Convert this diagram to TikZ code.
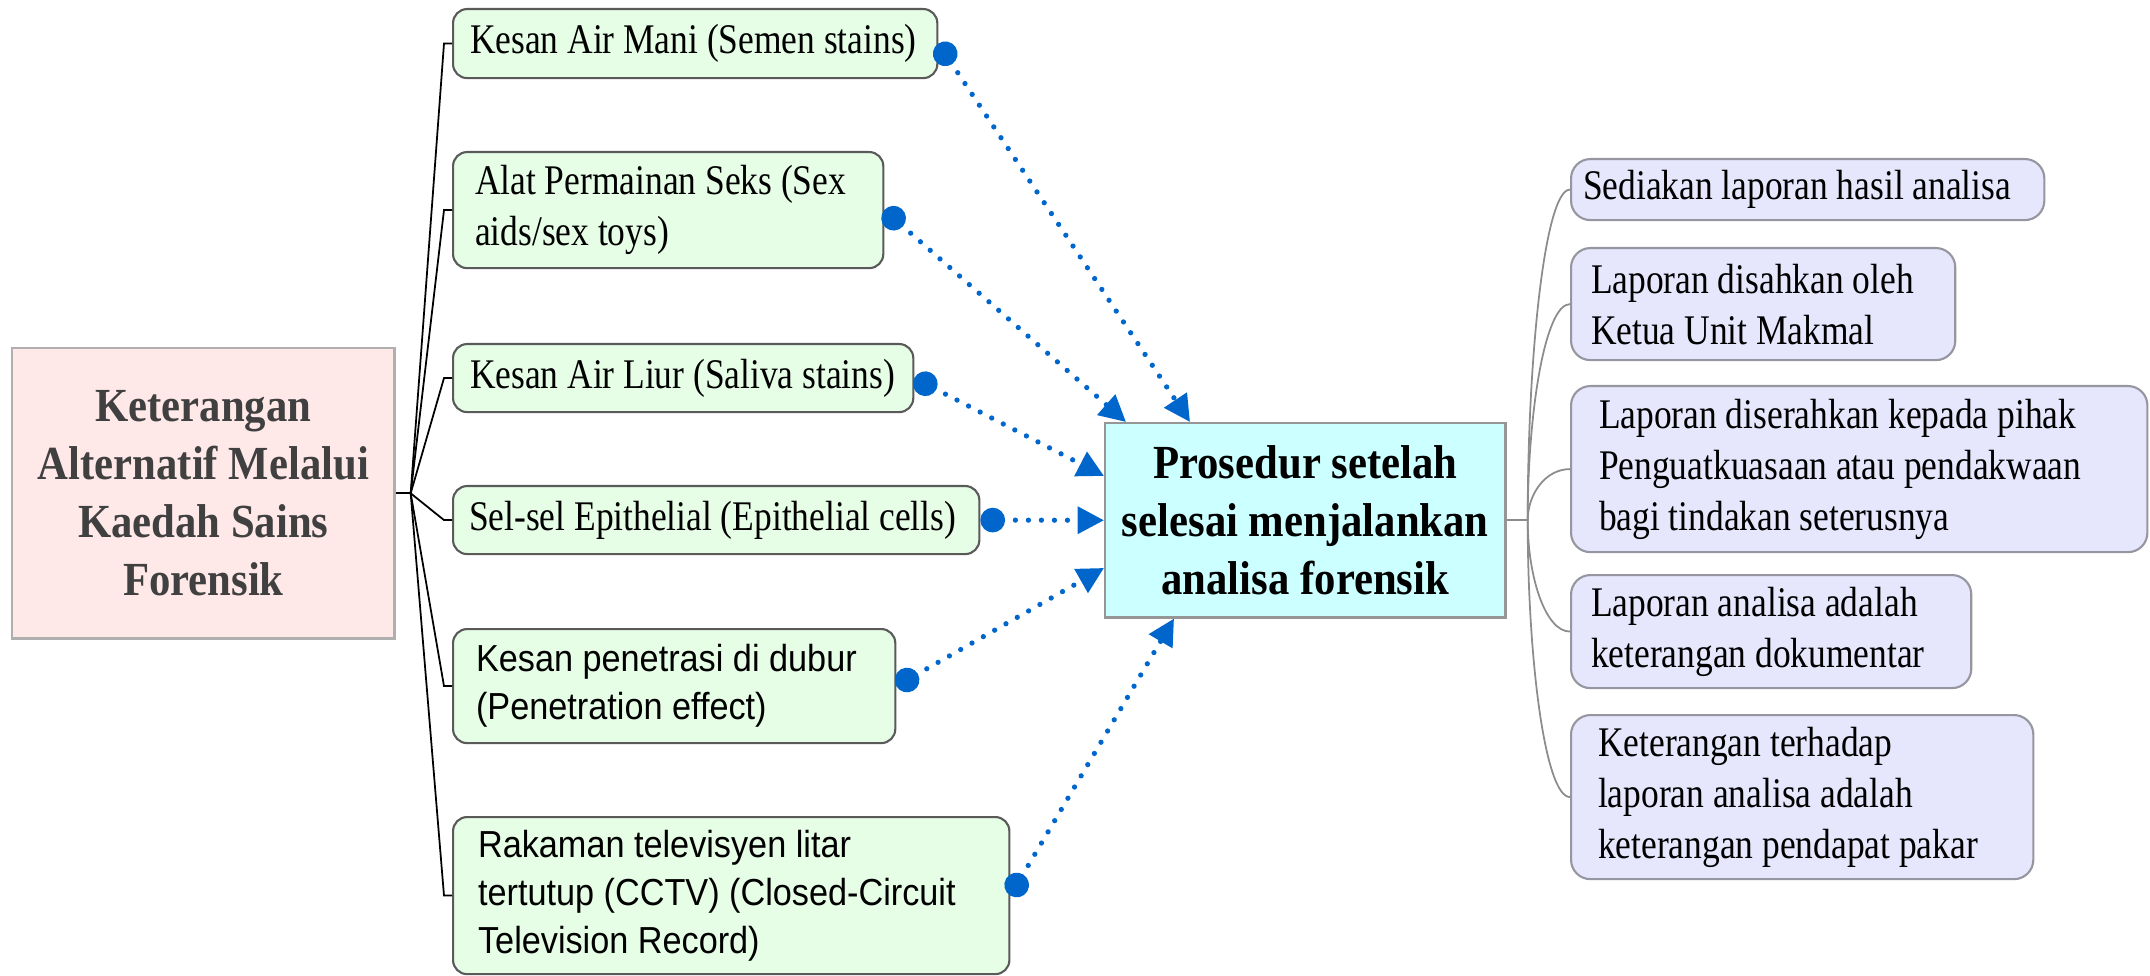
\documentclass[tikz,border=0pt]{standalone}
\usepackage{fontspec}
\usetikzlibrary{arrows.meta,calc}
\newfontfamily\camf[FakeStretch=0.84]{Liberation Serif}
\newfontfamily\campb[FakeStretch=0.9]{Liberation Serif}
\newfontfamily\arif[FakeStretch=0.91]{Liberation Sans}
\definecolor{gfill}{RGB}{230,253,230}
\definecolor{gline}{RGB}{90,90,90}
\definecolor{lfill}{RGB}{230,230,252}
\definecolor{lline}{RGB}{150,150,160}
\definecolor{pfill}{RGB}{255,232,232}
\definecolor{pline}{RGB}{175,175,175}
\definecolor{cfill}{RGB}{204,255,255}
\definecolor{cline}{RGB}{150,150,150}
\definecolor{relblue}{RGB}{0,102,204}
\definecolor{ptext}{RGB}{64,64,64}
\tikzset{
  gbox/.style={draw=gline, fill=gfill, rounded corners=4pt, anchor=north west, align=flush left,
    inner ysep=0pt, line width=0.6pt,
    font={\camf\fontsize{12}{14.5}\selectfont\spaceskip=2.5pt plus 1pt minus 0.5pt\relax}},
  gboxa/.style={gbox, font={\arif\fontsize{10.7}{13.66}\selectfont}},
  lbox/.style={draw=lline, fill=lfill, rounded corners=5.5pt, anchor=north west, align=flush left,
    inner ysep=0pt, line width=0.6pt,
    font={\camf\fontsize{12}{14.5}\selectfont\spaceskip=2.5pt plus 1pt minus 0.5pt\relax}},
  pbox/.style={draw=pline, fill=pfill, anchor=north west, align=center, inner sep=0pt,
    line width=0.7pt, text=ptext, font={\campb\bfseries\fontsize{13.5}{16.5}\selectfont}},
  cbox/.style={draw=cline, fill=cfill, anchor=north west, align=center, inner sep=0pt,
    line width=0.7pt, font={\campb\bfseries\fontsize{13.5}{16.5}\selectfont}},
  lconn/.style={draw=black, line width=0.5pt},
  rconn/.style={draw=black!45, line width=0.5pt},
  rel/.style={draw=relblue, line width=1.5pt, dash pattern=on 0pt off 3.7pt, line cap=round,
    {Circle[length=7pt,width=7pt]}-{Triangle[length=7.5pt,width=7.5pt]}}
}
\begin{document}
\begin{tikzpicture}[x=0.01cm,y=-0.01cm]
\useasboundingbox (0,0) rectangle (2150,976);

% left root
\node[pbox, minimum width=3.82cm, minimum height=2.9cm] (P) at (11,347)
  {Keterangan\\Alternatif Melalui\\Kaedah Sains\\Forensik};

% green boxes
\node[gbox, minimum width=4.84cm, minimum height=0.69cm, inner xsep=0.17cm, text width=4.50cm] (G1) at (452,8)
  {\mbox{Kesan Air Mani (Semen stains)}};
\node[gbox, minimum width=4.30cm, minimum height=1.16cm, inner xsep=0.22cm, text width=3.86cm] (G2) at (452,151)
  {\mbox{Alat Permainan Seks (Sex}\\\mbox{aids/sex toys)}};
\node[gbox, minimum width=4.60cm, minimum height=0.68cm, inner xsep=0.17cm, text width=4.26cm] (G3) at (452,343)
  {\mbox{Kesan Air Liur (Saliva stains)}};
\node[gbox, minimum width=5.26cm, minimum height=0.68cm, inner xsep=0.16cm, text width=4.94cm] (G4) at (452,485)
  {\mbox{Sel-sel Epithelial (Epithelial cells)}};
\node[gboxa, minimum width=4.42cm, minimum height=1.14cm, inner xsep=0.23cm, text width=3.96cm] (G5) at (452,628)
  {\mbox{Kesan penetrasi di dubur}\\\mbox{(Penetration effect)}};
\node[gboxa, minimum width=5.56cm, minimum height=1.57cm, inner xsep=0.25cm, text width=5.06cm] (G6) at (452,816)
  {\mbox{Rakaman televisyen litar}\\\mbox{tertutup (CCTV) (Closed-Circuit}\\\mbox{Television Record)}};

% centre
\node[cbox, minimum width=4.0cm, minimum height=1.94cm] (C) at (1104,422)
  {Prosedur setelah\\selesai menjalankan\\analisa forensik};

% right boxes
\node[lbox, minimum width=4.73cm, minimum height=0.61cm, inner xsep=0.12cm, text width=4.49cm] (R1) at (1570,158)
  {\mbox{Sediakan laporan hasil analisa}};
\node[lbox, minimum width=3.84cm, minimum height=1.12cm, inner xsep=0.20cm, text width=3.44cm] (R2) at (1570,247)
  {\mbox{Laporan disahkan oleh}\\\mbox{Ketua Unit Makmal}};
\node[lbox, minimum width=5.76cm, minimum height=1.66cm, inner xsep=0.28cm, text width=5.20cm] (R3) at (1570,385)
  {\mbox{Laporan diserahkan kepada pihak}\\\mbox{Penguatkuasaan atau pendakwaan}\\\mbox{bagi tindakan seterusnya}};
\node[lbox, minimum width=4.00cm, minimum height=1.13cm, inner xsep=0.20cm, text width=3.60cm] (R4) at (1570,574)
  {\mbox{Laporan analisa adalah}\\\mbox{keterangan dokumentar}};
\node[lbox, minimum width=4.62cm, minimum height=1.64cm, inner xsep=0.27cm, text width=4.08cm] (R5) at (1570,714)
  {\mbox{Keterangan terhadap}\\\mbox{laporan analisa adalah}\\\mbox{keterangan pendapat pakar}};

% left connectors
\coordinate (hl) at ($(P.east)+(15,0)$);
\draw[lconn] (P.east) -- (hl);
\foreach \g in {G1,G2,G3,G4,G5,G6}{
  \draw[lconn] (hl) -- ($(\g.west)+(-8,0)$) -- (\g.west);
}

% right connectors
\coordinate (hr) at ($(C.east)+(21,0)$);
\draw[rconn] (C.east) -- (hr);
\foreach \r in {R1,R2,R3,R4,R5}{
  \draw[rconn] (hr) .. controls ($(hr)!0.5!(hr |- \r.west)$) and ($(\r.west)+(-25,0)$) .. (\r.west);
}

% relationship arrows
\coordinate (t1) at ($(C.north west)+(86,0)$);
\coordinate (t2) at ($(C.north west)+(22,0)$);
\coordinate (t3) at ($(C.north west)+(0,54)$);
\coordinate (t4) at (C.west);
\coordinate (t5) at ($(C.north west)+(0,146)$);
\coordinate (t6) at ($(C.south west)+(70,0)$);
\draw[rel] (G1.east) -- (t1);
\draw[rel] (G2.east) -- (t2);
\draw[rel] (G3.east) -- (t3);
\draw[rel] (G4.east) -- (t4);
\draw[rel] (G5.east) -- (t5);
\draw[rel] (G6.east) -- (t6);
\end{tikzpicture}
\end{document}
